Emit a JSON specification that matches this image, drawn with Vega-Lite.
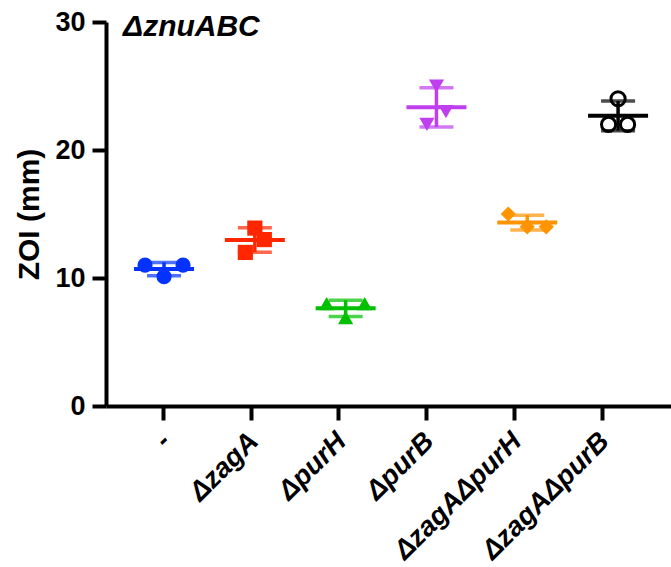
{
  "$schema": "https://vega.github.io/schema/vega-lite/v6.json",
  "width": 565,
  "height": 384,
  "autosize": {"type": "none"},
  "padding": {"left": 106, "top": 22, "right": 0, "bottom": 161},
  "config": {"view": {"stroke": null}, "font": "Liberation Sans"},
  "title": {"text": "ΔznuABC", "anchor": "start", "frame": "group", "fontSize": 30, "fontWeight": "bold", "fontStyle": "italic", "baseline": "alphabetic", "offset": 0, "dx": 17, "dy": 58, "color": "black"},
  "data": {"values": [
    {"group": "-", "rep": -2, "value": 11.0},
    {"group": "-", "rep": 2, "value": 11.0},
    {"group": "-", "rep": 0, "value": 10.1},
    {"group": "ΔzagA", "rep": 0, "value": 13.9},
    {"group": "ΔzagA", "rep": 1, "value": 13.0},
    {"group": "ΔzagA", "rep": -1, "value": 12.0},
    {"group": "ΔpurH", "rep": -2, "value": 8.0},
    {"group": "ΔpurH", "rep": 2, "value": 8.0},
    {"group": "ΔpurH", "rep": 0, "value": 6.9},
    {"group": "ΔpurB", "rep": 0, "value": 25.0},
    {"group": "ΔpurB", "rep": 1, "value": 23.0},
    {"group": "ΔpurB", "rep": -1, "value": 22.0},
    {"group": "ΔzagAΔpurH", "rep": -2, "value": 15.0},
    {"group": "ΔzagAΔpurH", "rep": 0, "value": 14.0},
    {"group": "ΔzagAΔpurH", "rep": 2, "value": 14.0},
    {"group": "ΔzagAΔpurB", "rep": 0, "value": 24.0},
    {"group": "ΔzagAΔpurB", "rep": -1, "value": 22.0},
    {"group": "ΔzagAΔpurB", "rep": 1, "value": 22.0}
  ]},
  "resolve": {"scale": {"x": "independent"}},
  "layer": [
    {
      "mark": {"type": "point", "opacity": 0},
      "encoding": {
        "x": {"field": "group", "type": "nominal", "sort": null,
          "scale": {"type": "point", "domain": ["-", "ΔzagA", "ΔpurH", "ΔpurB", "ΔzagAΔpurH", "ΔzagAΔpurB"], "padding": 0.721, "align": 0.451},
          "axis": {"title": null, "domainWidth": 4, "domainColor": "black", "tickWidth": 4, "tickSize": 14, "tickColor": "black", "labelFontSize": 27.5, "labelFontWeight": "bold", "labelFontStyle": "italic", "labelAngle": -45, "labelPadding": 7, "labelOffset": -7, "labelLimit": 300, "labelColor": "black", "grid": false}},
        "y": {"field": "value", "type": "quantitative", "title": "ZOI (mm)",
          "scale": {"domain": [0, 30], "nice": false},
          "axis": {"values": [0, 10, 20, 30], "domainWidth": 4, "domainColor": "black", "tickWidth": 4, "tickSize": 14, "tickColor": "black", "labelFontSize": 27, "labelFontWeight": "bold", "labelColor": "black", "labelPadding": 7, "titleFontSize": 30, "titleFontWeight": "bold", "titleColor": "black", "titlePadding": 10, "grid": false}}
      }
    },
    {
      "mark": {"type": "point", "filled": true, "size": 230, "opacity": 1},
      "transform": [{"filter": "datum.group != 'ΔzagAΔpurB'"}],
      "encoding": {
        "x": {"field": "group", "type": "nominal", "sort": null, "axis": null,
          "scale": {"type": "point", "domain": ["-", "ΔzagA", "ΔpurH", "ΔpurB", "ΔzagAΔpurH", "ΔzagAΔpurB"], "padding": 0.611, "align": 0.523}},
        "xOffset": {"field": "rep", "type": "quantitative", "scale": {"domain": [-2, 2], "range": [-19, 19]}},
        "y": {"field": "value", "type": "quantitative", "title": "ZOI (mm)"},
        "color": {"field": "group", "type": "nominal", "legend": null,
          "scale": {"domain": ["-", "ΔzagA", "ΔpurH", "ΔpurB", "ΔzagAΔpurH", "ΔzagAΔpurB"], "range": ["#0433FF", "#FF2600", "#00C000", "#BF3FEF", "#FF9300", "#000000"]}},
        "shape": {"field": "group", "type": "nominal", "legend": null,
          "scale": {"domain": ["-", "ΔzagA", "ΔpurH", "ΔpurB", "ΔzagAΔpurH"], "range": ["circle", "square", "triangle-up", "triangle-down", "diamond"]}}
      }
    },
    {
      "mark": {"type": "point", "filled": false, "size": 200, "strokeWidth": 3, "opacity": 1, "color": "black"},
      "transform": [{"filter": "datum.group == 'ΔzagAΔpurB'"}],
      "encoding": {
        "x": {"field": "group", "type": "nominal", "sort": null, "axis": null,
          "scale": {"type": "point", "domain": ["-", "ΔzagA", "ΔpurH", "ΔpurB", "ΔzagAΔpurH", "ΔzagAΔpurB"], "padding": 0.611, "align": 0.523}},
        "xOffset": {"field": "rep", "type": "quantitative", "scale": {"domain": [-2, 2], "range": [-19, 19]}},
        "y": {"field": "value", "type": "quantitative", "title": "ZOI (mm)"}
      }
    },
    {
      "mark": {"type": "errorbar", "extent": "stdev", "thickness": 3.5, "ticks": {"size": 34, "thickness": 3.5}},
      "encoding": {
        "x": {"field": "group", "type": "nominal", "sort": null, "axis": null,
          "scale": {"type": "point", "domain": ["-", "ΔzagA", "ΔpurH", "ΔpurB", "ΔzagAΔpurH", "ΔzagAΔpurB"], "padding": 0.611, "align": 0.523}},
        "y": {"field": "value", "type": "quantitative", "title": "ZOI (mm)"},
        "color": {"field": "group", "type": "nominal", "legend": null}
      }
    },
    {
      "mark": {"type": "tick", "size": 60, "thickness": 4, "opacity": 1},
      "encoding": {
        "x": {"field": "group", "type": "nominal", "sort": null, "axis": null,
          "scale": {"type": "point", "domain": ["-", "ΔzagA", "ΔpurH", "ΔpurB", "ΔzagAΔpurH", "ΔzagAΔpurB"], "padding": 0.611, "align": 0.523}},
        "y": {"aggregate": "mean", "field": "value", "type": "quantitative", "title": "ZOI (mm)"},
        "color": {"field": "group", "type": "nominal", "legend": null}
      }
    }
  ]
}
